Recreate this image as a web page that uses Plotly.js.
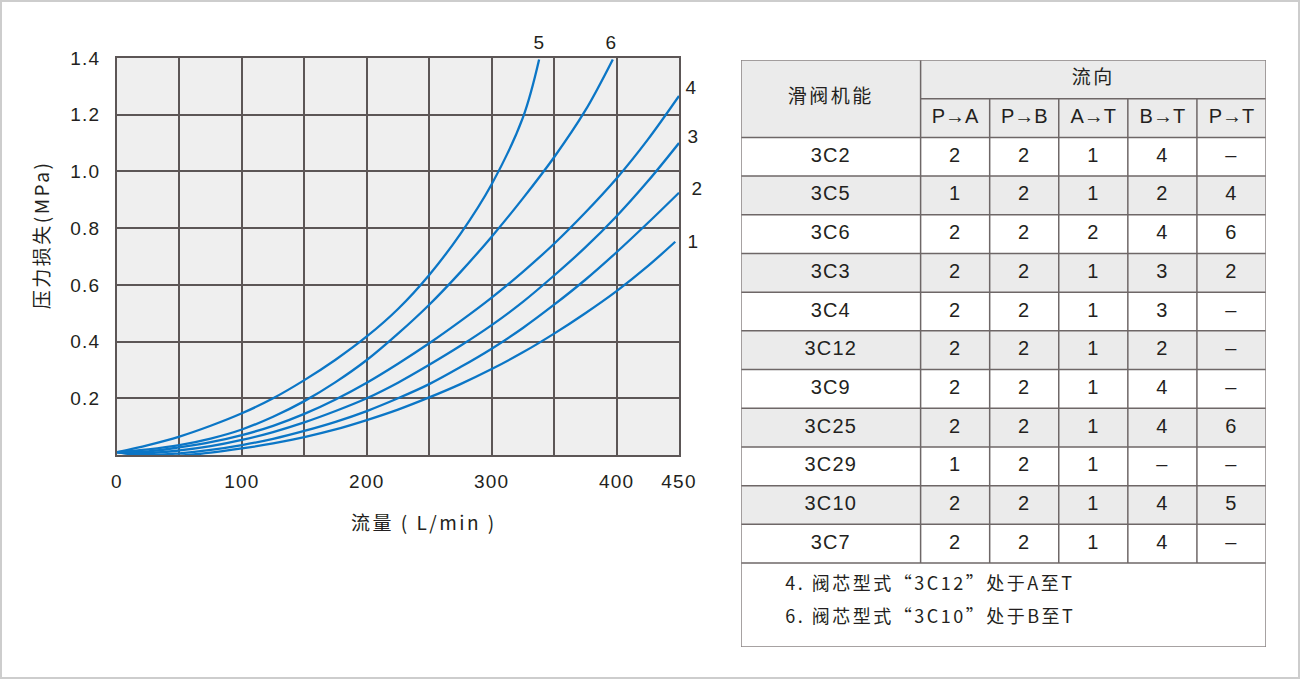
<!DOCTYPE html>
<html>
<head>
<meta charset="utf-8">
<script src="https://cdn.plot.ly/plotly-3.0.1.min.js"></script>
<style>
html,body{margin:0;padding:0;background:#fff;}
#chart{width:1300px;height:679px;}
#chart svg text{letter-spacing:1.2px;}
</style>
</head>
<body>
<div id="chart"></div>
<script>
// ---------- chart data (flow L/min, pressure loss MPa) ----------
const flowGrid = [0, 25, 50, 75, 100, 125, 150, 175, 200, 225, 250, 275, 300, 325, 350, 375, 400, 425, 450];
const curve1Flow = [0, 25, 50, 75, 100, 125, 150, 175, 200, 225, 250, 275, 300, 325, 350, 375, 400, 425, 447];
const curve1Loss = [0.01, -0.004, -0.002, 0.008, 0.023, 0.041, 0.063, 0.09, 0.123, 0.16, 0.203, 0.25, 0.303, 0.362, 0.428, 0.5, 0.578, 0.666, 0.752];
const curve2Flow = flowGrid;
const curve2Loss = [0.01, 0.0, 0.006, 0.018, 0.035, 0.057, 0.085, 0.117, 0.155, 0.2, 0.25, 0.31, 0.375, 0.448, 0.53, 0.618, 0.715, 0.818, 0.925];
const curve3Flow = flowGrid;
const curve3Loss = [0.01, 0.007, 0.016, 0.031, 0.053, 0.081, 0.115, 0.155, 0.2, 0.255, 0.318, 0.385, 0.458, 0.54, 0.633, 0.732, 0.842, 0.965, 1.1];
const curve4Flow = flowGrid;
const curve4Loss = [0.01, 0.013, 0.027, 0.045, 0.07, 0.103, 0.145, 0.196, 0.255, 0.322, 0.394, 0.472, 0.555, 0.646, 0.745, 0.855, 0.975, 1.112, 1.266];
const curve5Flow = [0, 25, 50, 75, 100, 125, 150, 175, 200, 225, 250, 275, 300, 325, 338];
const curve5Loss = [0.01, 0.035, 0.065, 0.103, 0.147, 0.2, 0.264, 0.336, 0.418, 0.515, 0.635, 0.78, 0.955, 1.19, 1.395];
const curve6Flow = [0, 25, 50, 75, 100, 125, 150, 175, 200, 225, 250, 275, 300, 325, 350, 375, 397];
const curve6Loss = [0.01, 0.02, 0.035, 0.058, 0.09, 0.135, 0.19, 0.257, 0.335, 0.428, 0.53, 0.645, 0.77, 0.905, 1.05, 1.215, 1.395];
const curveNames = ["1", "2", "3", "4", "5", "6"];

const xTickVals = [0, 50, 100, 150, 200, 250, 300, 350, 400, 450];
const xTickText = ["0", "", "100", "", "200", "", "300", "", "400", "450"];
const yTickVals = [0, 0.2, 0.4, 0.6, 0.8, 1.0, 1.2, 1.4];
const yTickText = ["", "0.2", "0.4", "0.6", "0.8", "1.0", "1.2", "1.4"];
const xTitle = "流量 ( L/min )";
const yTitle = "压力损失(MPa)";

// ---------- table data ----------
const headFunction = "滑阀机能";
const headFlow = "流向";
const flowDirs = ["P→A", "P→B", "A→T", "B→T", "P→T"];
const spoolTypes = ["3C2", "3C5", "3C6", "3C3", "3C4", "3C12", "3C9", "3C25", "3C29", "3C10", "3C7"];
const colPA = ["2", "1", "2", "2", "2", "2", "2", "2", "1", "2", "2"];
const colPB = ["2", "2", "2", "2", "2", "2", "2", "2", "2", "2", "2"];
const colAT = ["1", "1", "2", "1", "1", "1", "1", "1", "1", "1", "1"];
const colBT = ["4", "2", "4", "3", "3", "2", "4", "4", "–", "4", "4"];
const colPT = ["–", "4", "6", "2", "–", "–", "–", "6", "–", "5", "–"];
const notes = ["4. 阀芯型式“3C12”处于A至T", "6. 阀芯型式“3C10”处于B至T"];

// ---------- styles / layout ----------
const W = 1300, H = 679;
const BLUE = "#0b76c6";
const TXT = "#231f20";
const GRID = "#5c5656";
const LAT = "Liberation Sans, Arial, Noto Sans CJK SC, sans-serif";
const CJK = "Noto Sans CJK SC, Liberation Sans, sans-serif";

const plotPx = {l: 117, r: 679, t: 58, b: 455};
const tablePx = {l: 741, r: 1266, t: 60, b: 647};
const colWidths = [2.6, 1, 1, 1, 1, 1];
const headRows = 2, notesRows = 2.17;

const colEdges = [0];
colWidths.forEach(w => colEdges.push(colEdges[colEdges.length - 1] + w));
const nBody = spoolTypes.length;
const totalRows = headRows + nBody + notesRows;
const tW = colEdges[colEdges.length - 1];

const traces = [];
const curves = [
  [curve1Flow, curve1Loss], [curve2Flow, curve2Loss], [curve3Flow, curve3Loss],
  [curve4Flow, curve4Loss], [curve5Flow, curve5Loss], [curve6Flow, curve6Loss]
];
curves.forEach((c, i) => {
  traces.push({
    type: "scatter", mode: "lines", x: c[0], y: c[1], name: curveNames[i],
    line: {color: BLUE, width: 2.3, shape: "spline", smoothing: 1},
    hoverinfo: "skip", showlegend: false, cliponaxis: false, xaxis: "x", yaxis: "y"
  });
});

// curve labels placed at each curve's end
const labelShift = {"1": [18, 0], "2": [18, 4], "3": [14, 7], "4": [12, 9], "5": [0, 17], "6": [-1, 17]};
const annotations = [];
curves.forEach((c, i) => {
  const n = curveNames[i];
  annotations.push({
    x: c[0][c[0].length - 1], y: c[1][c[1].length - 1], xref: "x", yref: "y",
    text: n, showarrow: false, xshift: labelShift[n][0], yshift: labelShift[n][1],
    xanchor: "center", yanchor: "middle",
    font: {family: LAT, size: 19, color: TXT}
  });
});
annotations.push({x: 40 / W, y: 1 - 235 / H, xref: "paper", yref: "paper", text: yTitle, textangle: -90,
  xanchor: "center", yanchor: "middle", showarrow: false, font: {family: CJK, size: 19, color: TXT}});
annotations.push({x: 424 / W, y: 1 - 521 / H, xref: "paper", yref: "paper", text: xTitle,
  xanchor: "center", yanchor: "middle", showarrow: false, font: {family: CJK, size: 19, color: TXT}});

// ---------- background shapes and table ----------
const shapes = [];
shapes.push({type: "rect", xref: "x", yref: "y", x0: 0, x1: 450, y0: 0, y1: 1.4,
  fillcolor: "#efefef", line: {width: 0}, layer: "below"});
shapes.push({type: "rect", xref: "paper", yref: "paper", x0: 1 / W, x1: 1 - 1 / W, y0: 1 / H, y1: 1 - 1 / H,
  line: {color: "#cdcdcd", width: 2}, layer: "below"});

const GRAY = "#ebebeb";
shapes.push({type: "rect", xref: "x2", yref: "y2", x0: 0, x1: tW, y0: 0, y1: headRows,
  fillcolor: GRAY, line: {width: 0}, layer: "below"});
for (let r = 0; r < nBody; r++) {
  if (r % 2 === 1) {
    shapes.push({type: "rect", xref: "x2", yref: "y2", x0: 0, x1: tW, y0: headRows + r, y1: headRows + r + 1,
      fillcolor: GRAY, line: {width: 0}, layer: "below"});
  }
}
const LINE = {color: "#6e6767", width: 1.5};
shapes.push({type: "line", xref: "x2", yref: "y2", x0: colEdges[1], x1: tW, y0: 1, y1: 1, line: LINE});
for (let r = 0; r <= nBody; r++) {
  shapes.push({type: "line", xref: "x2", yref: "y2", x0: 0, x1: tW, y0: headRows + r, y1: headRows + r, line: LINE});
}
for (let c = 1; c < colEdges.length - 1; c++) {
  shapes.push({type: "line", xref: "x2", yref: "y2", x0: colEdges[c], x1: colEdges[c],
    y0: c === 1 ? 0 : 1, y1: headRows + nBody, line: LINE});
}
shapes.push({type: "rect", xref: "x2", yref: "y2", x0: 0, x1: tW, y0: 0, y1: totalRows,
  line: {color: "#8a8484", width: 1.5}});

// table texts
const hx = [], hy = [], ht = [];
hx.push(colEdges[1] / 2); hy.push(1); ht.push(headFunction);
hx.push((colEdges[1] + tW) / 2); hy.push(0.5); ht.push(headFlow);
traces.push({type: "scatter", mode: "text", x: hx, y: hy, text: ht, xaxis: "x2", yaxis: "y2",
  textposition: "middle center", textfont: {family: CJK, size: 19, color: TXT},
  hoverinfo: "skip", showlegend: false, cliponaxis: false});

const bx = [], by = [], bt = [];
flowDirs.forEach((d, i) => { bx.push((colEdges[i + 1] + colEdges[i + 2]) / 2); by.push(1.5); bt.push(d); });
const cols = [spoolTypes, colPA, colPB, colAT, colBT, colPT];
cols.forEach((col, ci) => {
  col.forEach((v, ri) => { bx.push((colEdges[ci] + colEdges[ci + 1]) / 2); by.push(headRows + ri + 0.5); bt.push(v); });
});
traces.push({type: "scatter", mode: "text", x: bx, y: by, text: bt, xaxis: "x2", yaxis: "y2",
  textposition: "middle center", textfont: {family: LAT, size: 20, color: TXT},
  hoverinfo: "skip", showlegend: false, cliponaxis: false});

traces.push({type: "scatter", mode: "text", x: [0.64, 0.64], y: [headRows + nBody + 0.59, headRows + nBody + 1.44],
  text: notes, xaxis: "x2", yaxis: "y2", textposition: "middle right",
  textfont: {family: CJK, size: 18, color: TXT}, hoverinfo: "skip", showlegend: false, cliponaxis: false});

const layout = {
  width: W, height: H, margin: {l: 0, r: 0, t: 0, b: 0},
  paper_bgcolor: "#ffffff", plot_bgcolor: "rgba(0,0,0,0)", showlegend: false,
  xaxis: {
    domain: [plotPx.l / W, plotPx.r / W], range: [0, 450], tickvals: xTickVals, ticktext: xTickText,
    showgrid: true, gridcolor: GRID, gridwidth: 2, zeroline: false,
    showline: true, linecolor: GRID, linewidth: 2, mirror: true,
    ticks: "outside", ticklen: 8, tickcolor: "rgba(0,0,0,0)",
    tickfont: {family: LAT, size: 19, color: TXT}, fixedrange: true
  },
  yaxis: {
    domain: [1 - plotPx.b / H, 1 - plotPx.t / H], range: [0, 1.4], tickvals: yTickVals, ticktext: yTickText,
    showgrid: true, gridcolor: GRID, gridwidth: 2, zeroline: false,
    showline: true, linecolor: GRID, linewidth: 2, mirror: true,
    ticks: "outside", ticklen: 11, tickcolor: "rgba(0,0,0,0)",
    tickfont: {family: LAT, size: 19, color: TXT}, fixedrange: true
  },
  xaxis2: {domain: [tablePx.l / W, tablePx.r / W], range: [0, tW], visible: false, anchor: "y2", fixedrange: true},
  yaxis2: {domain: [1 - tablePx.b / H, 1 - tablePx.t / H], range: [totalRows, 0], visible: false, anchor: "x2", fixedrange: true},
  shapes: shapes, annotations: annotations
};

Plotly.newPlot("chart", traces, layout, {displayModeBar: false, staticPlot: true}).then(gd => {
  gd.querySelectorAll("text").forEach(t => {
    const s = t.textContent || "";
    if (/[\u4e00-\u9fff]/.test(s)) t.style.letterSpacing = "2.5px";
    else if (s.indexOf("→") >= 0) t.style.letterSpacing = "0px";
  });
});
</script>
</body>
</html>
